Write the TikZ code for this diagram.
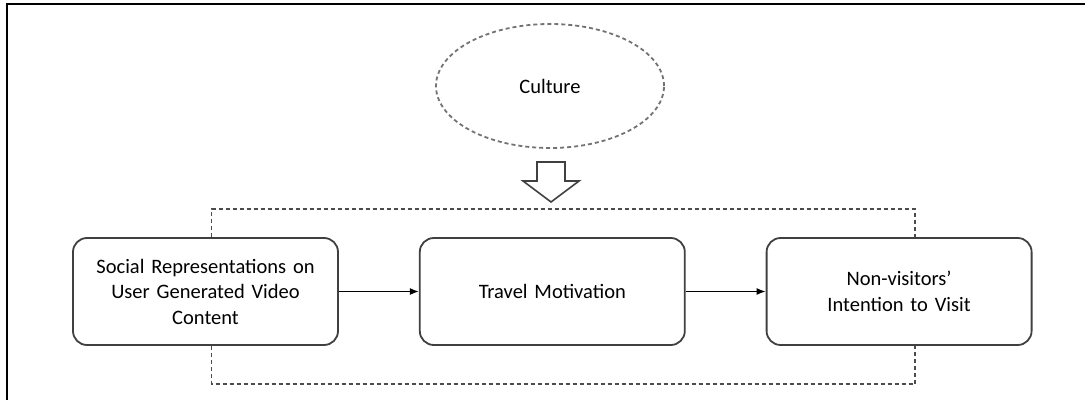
\documentclass[tikz,border=0pt]{standalone}
\usepackage{fontspec}
\setmainfont{Carlito}
\usepackage{tikz}
\usetikzlibrary{arrows.meta,positioning,shapes.geometric}

\begin{document}
\begin{tikzpicture}[x=1pt,y=1pt,node distance=80pt,
		var node/.style={rectangle,rounded corners=14pt,draw=black!75,line width=1.8pt,
			minimum width=265pt,minimum height=107pt,text width=255pt,align=center,
			font=\fontsize{20.5}{25.5}\selectfont},
		moderator node/.style={ellipse,draw=black!55,line width=1.8pt,dash pattern=on 4pt off 3pt,
			minimum width=228pt,minimum height=124pt,font=\fontsize{20.5}{25.5}\selectfont},
		link/.style={-{Latex[length=9pt,width=7pt]},line width=1.5pt},
		feedback/.style={draw=black!70,line width=1.6pt,dash pattern=on 4pt off 3pt}]
		\useasboundingbox (0,0) rectangle (1085,400);
		% frame
		\draw[line width=2pt] (7,0) -- (7,396) -- (1085,396);
		% variables
		\node[var node] (sr) at (205.5,108.5) {Social Representations on\\User Generated Video\\Content};
		\node[var node] (tm) [right=of sr] {Travel Motivation};
		\node[var node] (iv) [right=of tm] {Non-visitors'\\Intention to Visit};
		\node[moderator node] (cu) at (550,314) {Culture};
		\path (sr) edge[link] (tm)
		(tm) edge[link] (iv);
		% moderating effect
		\coordinate (tip) at (551,198);
		\draw[draw=black!75,line width=1.6pt,fill=white] (tip) -- ++(-28,21) -- ++(14,0) -- ++(0,19) -- ++(28,0) -- ++(0,-19) -- ++(14,0) -- cycle;
		\draw[feedback] ([xshift=6pt]sr.north) -- ++(0,28) -| ([xshift=16pt]iv.north);
		\draw[feedback] ([xshift=6pt]sr.south) -- ++(0,-38) -| ([xshift=16pt]iv.south);
\end{tikzpicture}
\end{document}
